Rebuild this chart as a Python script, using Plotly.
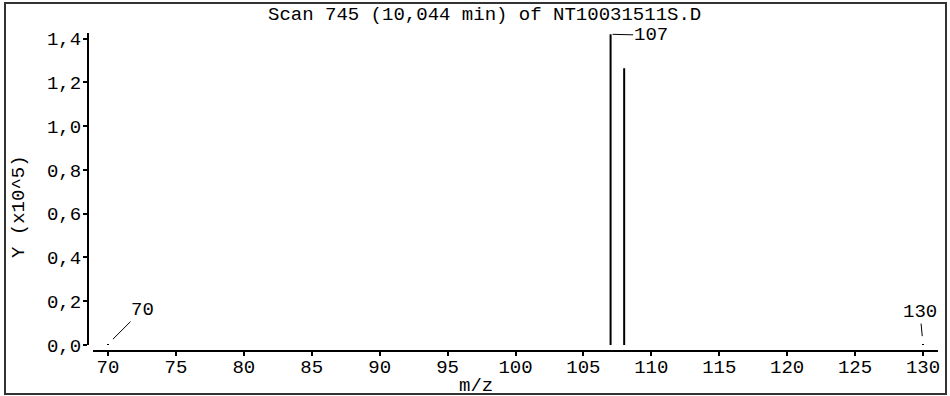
import plotly.graph_objects as go

W, H = 950, 396

# data
mz = [70, 107, 108, 130]
intensity = [0.004, 1.42, 1.265, 0.004]
label_mz = [70, 107, 130]
x_ticks = [70, 75, 80, 85, 90, 95, 100, 105, 110, 115, 120, 125, 130]
y_ticks = [0.0, 0.2, 0.4, 0.6, 0.8, 1.0, 1.2, 1.4]
title_text = "Scan 745 (10,044 min) of NT10031511S.D"
x_title = "m/z"
y_title = "Y (x10^5)"

FONT = "Liberation Mono"
FS = 19

def px(x):
    return x / W

def py(y):
    return (H - y) / H

# stick spectrum built from the data
xs, ys = [], []
for m, v in zip(mz, intensity):
    xs += [m, m, None]
    ys += [0, v, None]

fig = go.Figure()
fig.add_trace(go.Scatter(x=xs, y=ys, mode="lines",
                         line=dict(color="black", width=2),
                         hoverinfo="skip", showlegend=False))

xscale = (923 - 108) / 60.0
x0 = 70 + (93 - 108) / xscale
x1 = 70 + (938 - 108) / xscale
yscale = (345 - 38) / 1.4
ytop = (345 - 33) / yscale + 0.003

fig.update_layout(
    template="none",
    width=W, height=H,
    margin=dict(l=0, r=0, t=0, b=0, pad=0),
    paper_bgcolor="white", plot_bgcolor="white",
    separators=",.",
    showlegend=False,
    font=dict(family=FONT, size=FS, color="black"),
    xaxis=dict(domain=[px(93), px(938)], range=[x0, x1],
               anchor="free", position=py(351), automargin=False,
               showline=True, linecolor="black", linewidth=2,
               ticks="outside", ticklen=4, tickwidth=2, tickcolor="black",
               tickvals=x_ticks, ticktext=[str(t) for t in x_ticks],
               ticklabelstandoff=-6,
               showgrid=False, zeroline=False,
               tickfont=dict(family=FONT, size=FS)),
    yaxis=dict(domain=[py(345), py(33)], range=[0, ytop],
               anchor="free", position=px(88), automargin=False,
               showline=True, linecolor="black", linewidth=2,
               ticks="outside", ticklen=4, tickwidth=2, tickcolor="black",
               tickvals=y_ticks, tickformat=".1f",
               ticklabelstandoff=-2,
               showgrid=False, zeroline=False,
               tickfont=dict(family=FONT, size=FS)),
    shapes=[dict(type="rect", xref="paper", yref="paper",
                 x0=px(5), x1=px(946), y0=py(394), y1=py(3),
                 line=dict(color="#333333", width=2))],
)

anns = [
    dict(text=title_text, x=px(484), y=py(15), xref="paper", yref="paper",
         showarrow=False, xanchor="center", yanchor="middle"),
    dict(text=x_title, x=px(476), y=py(386), xref="paper", yref="paper",
         showarrow=False, xanchor="center", yanchor="middle"),
    dict(text=y_title, x=px(19), y=py(207), xref="paper", yref="paper",
         showarrow=False, textangle=-90, xanchor="center", yanchor="middle"),
]
offsets = {70: (34, -34, 7), 107: (40, 1, 2), 130: (-3, -32, 8)}
for m in label_mz:
    v = intensity[mz.index(m)]
    ax, ay, so = offsets[m]
    anns.append(dict(text=str(m), x=m, y=v, xref="x", yref="y",
                     showarrow=True, arrowhead=0, arrowwidth=1,
                     arrowcolor="black", ax=ax, ay=ay, standoff=so,
                     borderpad=0,
                     font=dict(family=FONT, size=FS)))
fig.update_layout(annotations=anns)

post = """
document.documentElement.style.margin='0';
document.documentElement.style.overflow='hidden';
document.body.style.margin='0';
document.body.style.overflow='hidden';
"""
fig.write_html("out.html", post_script=post,
               config={"displayModeBar": False})
